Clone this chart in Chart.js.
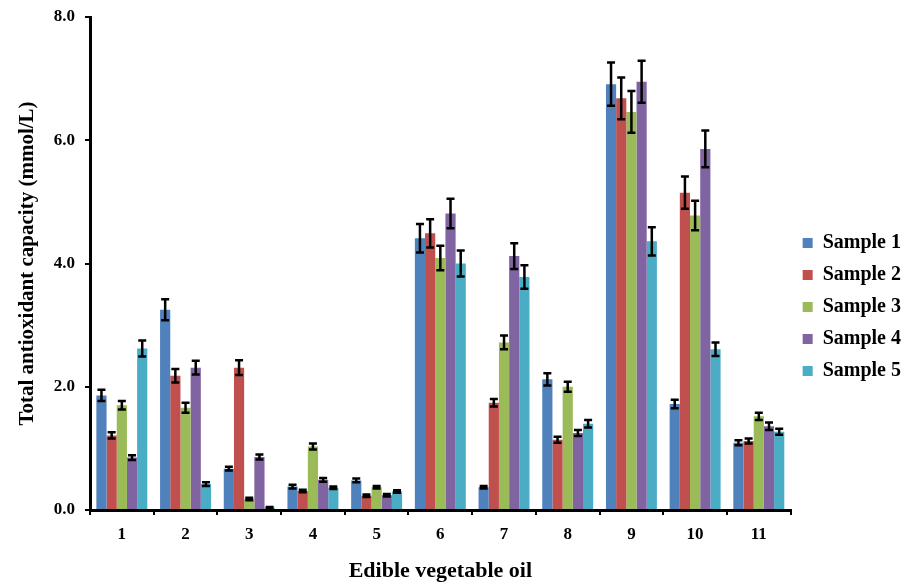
<!DOCTYPE html>
<html>
<head>
<meta charset="utf-8">
<script src="https://cdn.jsdelivr.net/npm/chart.js@4.4.0/dist/chart.umd.min.js"></script>
<style>
    html, body { margin: 0; padding: 0; background: #fff; overflow: hidden; }
    #wrap { width: 914px; height: 585px; position: relative; }
</style>
</head>
<body>
<div id="wrap"><canvas id="oilChart"></canvas></div>
<script>
// edible vegetable oils 1..11
const oils = ["1", "2", "3", "4", "5", "6", "7", "8", "9", "10", "11"];
const sampleNames = ["Sample 1", "Sample 2", "Sample 3", "Sample 4", "Sample 5"];
const sampleColors = ["#4F81BD", "#C0504D", "#9BBB59", "#8064A2", "#4BACC6"];

// total antioxidant capacity (mmol/L)
const sample1 = [1.86, 3.25, 0.67, 0.38, 0.48, 4.41, 0.37, 2.12, 6.91, 1.72, 1.09];
const sample2 = [1.21, 2.18, 2.31, 0.31, 0.23, 4.49, 1.74, 1.14, 6.68, 5.15, 1.12];
const sample3 = [1.70, 1.66, 0.18, 1.03, 0.37, 4.09, 2.72, 2.00, 6.46, 4.78, 1.52];
const sample4 = [0.85, 2.31, 0.86, 0.49, 0.24, 4.81, 4.12, 1.25, 6.95, 5.86, 1.36];
const sample5 = [2.62, 0.42, 0.04, 0.36, 0.30, 4.00, 3.78, 1.40, 4.36, 2.61, 1.27];

// error (+/-)
const err1 = [0.09, 0.17, 0.03, 0.03, 0.03, 0.23, 0.02, 0.10, 0.35, 0.07, 0.04];
const err2 = [0.05, 0.11, 0.12, 0.02, 0.02, 0.23, 0.06, 0.05, 0.34, 0.26, 0.04];
const err3 = [0.07, 0.08, 0.02, 0.05, 0.02, 0.20, 0.11, 0.08, 0.34, 0.24, 0.06];
const err4 = [0.04, 0.11, 0.04, 0.03, 0.02, 0.24, 0.21, 0.05, 0.34, 0.30, 0.06];
const err5 = [0.13, 0.03, 0.01, 0.02, 0.02, 0.21, 0.19, 0.06, 0.23, 0.11, 0.05];

const yTicks = [0, 2, 4, 6, 8];

const values = [sample1, sample2, sample3, sample4, sample5];
const errors = [err1, err2, err3, err4, err5];

const serif = "'Liberation Serif', 'Times New Roman', serif";

// draws the +/- error bars on top of each bar
const errorBars = {
    id: "errorBars",
    afterDatasetsDraw(chart) {
        const ctx = chart.ctx;
        const yScale = chart.scales.y;
        ctx.save();
        ctx.strokeStyle = "#000";
        ctx.lineWidth = 2.5;
        chart.data.datasets.forEach((ds, di) => {
            const meta = chart.getDatasetMeta(di);
            meta.data.forEach((bar, i) => {
                const v = ds.data[i];
                const e = ds.errors[i];
                const top = yScale.getPixelForValue(v + e);
                const bot = yScale.getPixelForValue(Math.max(0, v - e));
                const half = 4;
                ctx.beginPath();
                ctx.moveTo(bar.x, top);
                ctx.lineTo(bar.x, bot);
                ctx.moveTo(bar.x - half, top);
                ctx.lineTo(bar.x + half, top);
                ctx.moveTo(bar.x - half, bot);
                ctx.lineTo(bar.x + half, bot);
                ctx.stroke();
            });
        });
        ctx.restore();
    }
};

const ctx = document.getElementById("oilChart").getContext("2d");
new Chart(ctx, {
    type: "bar",
    data: {
        labels: oils,
        datasets: sampleNames.map((name, k) => ({
            label: name,
            data: values[k],
            errors: errors[k],
            backgroundColor: sampleColors[k],
            borderWidth: 0,
            categoryPercentage: 0.8,
            barPercentage: 1.0
        }))
    },
    options: {
        responsive: true,
        maintainAspectRatio: false,
        animation: false,
        layout: { padding: { top: 17, bottom: 0, left: 4, right: 3 } },
        plugins: {
            tooltip: { enabled: false },
            legend: {
                position: "right",
                // empty title only pushes the items a little lower, like the original
                title: {
                    display: true,
                    text: " ",
                    font: { size: 10 },
                    padding: { top: 0, bottom: 0 }
                },
                labels: {
                    boxWidth: 10,
                    boxHeight: 10,
                    padding: 12,
                    color: "#000",
                    font: { family: serif, size: 20, weight: "bold" }
                }
            }
        },
        scales: {
            x: {
                afterFit: (scale) => { scale.height = 75; },
                grid: {
                    offset: true,
                    drawOnChartArea: false,
                    color: "#000",
                    lineWidth: 2,
                    tickLength: 5
                },
                border: { color: "#000", width: 3 },
                ticks: {
                    color: "#000",
                    padding: 9,
                    font: { family: serif, size: 17, weight: "bold" }
                },
                title: {
                    display: true,
                    text: "Edible vegetable oil",
                    color: "#000",
                    padding: { top: 10, bottom: 0 },
                    font: { family: serif, size: 22, weight: "bold" }
                }
            },
            y: {
                min: 0,
                max: 8,
                afterFit: (scale) => {
                    scale.width = 86;
                    scale.paddingTop = 0;
                },
                afterBuildTicks: (scale) => {
                    scale.ticks = yTicks.map(v => ({ value: v }));
                },
                grid: {
                    drawOnChartArea: false,
                    color: "#000",
                    lineWidth: 2,
                    tickLength: 5
                },
                border: { color: "#000", width: 3 },
                ticks: {
                    color: "#000",
                    padding: 10,
                    font: { family: serif, size: 17, weight: "bold" },
                    callback: (value) => Number(value).toFixed(1)
                },
                title: {
                    display: true,
                    text: "Total antioxidant capacity (mmol/L)",
                    color: "#000",
                    padding: { top: 11, bottom: 0 },
                    font: { family: serif, size: 21, weight: "bold" }
                }
            }
        }
    },
    plugins: [errorBars]
});
</script>
</body>
</html>
